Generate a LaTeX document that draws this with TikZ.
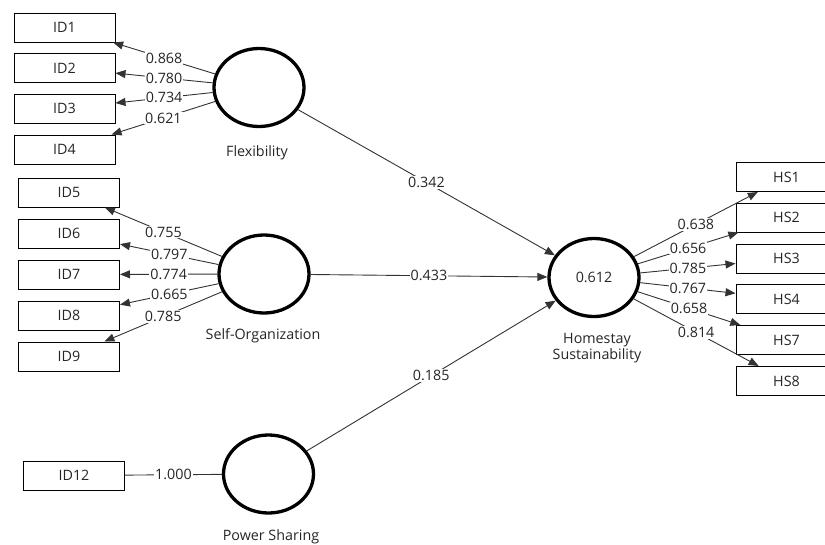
\documentclass[tikz,border=0pt]{standalone}
\usepackage{fontspec}
\setmainfont{Open Sans}
\usetikzlibrary{shapes.geometric,arrows.meta}
\begin{document}
\begin{tikzpicture}[x=1pt,y=-1pt,
  font=\fontsize{14.3}{16}\selectfont,
  txt/.style={text=black!85},
  ind/.style={draw=black, line width=1pt, minimum width=101pt, minimum height=29pt, inner sep=0pt, txt},
  lat/.style={ellipse, draw=black, line width=3.3pt, minimum width=90pt, minimum height=78pt, inner sep=0pt, txt},
  conn/.style={draw=black!80, line width=0.9pt},
  arr/.style={conn, -{Triangle[length=10pt,width=8pt]}},
  lbl/.style={fill=white, inner sep=1pt, txt},
  captxt/.style={txt, align=center}
]
\path[use as bounding box] (0,0) rectangle (825,544);
\clip (0,0) rectangle (825,544);
\fill[white] (0,0) rectangle (825,544);

% indicator boxes left
\node[ind] (id1) at (64.5,27.5) {ID1};
\node[ind] (id2) at (64.5,68) {ID2};
\node[ind] (id3) at (64.5,108.5) {ID3};
\node[ind] (id4) at (64.5,149.5) {ID4};
\node[ind] (id5) at (69,192.5) {ID5};
\node[ind] (id6) at (69,233.5) {ID6};
\node[ind] (id7) at (69,274.5) {ID7};
\node[ind] (id8) at (69,315.5) {ID8};
\node[ind] (id9) at (69,356.5) {ID9};
\node[ind] (id12) at (74,475.5) {ID12};

% right boxes
\node[ind] (hs1) at (786.5,177) {HS1};
\node[ind] (hs2) at (786.5,217.5) {HS2};
\node[ind] (hs3) at (786.5,258.5) {HS3};
\node[ind] (hs4) at (786.5,299) {HS4};
\node[ind] (hs7) at (786.5,340) {HS7};
\node[ind] (hs8) at (786.5,381) {HS8};

% latent variables
\node[lat] (flex) at (259,87.5) {};
\node[lat] (self) at (264,274) {};
\node[lat] (power) at (268.5,474) {};
\node[lat] (home) at (594,277.5) {0.612};

\node[captxt] (flexlbl) at (257,153) {Flexibility};
\node[captxt] (selflbl) at (263,336) {Self-Organization};
\node[captxt] (powerlbl) at (271,537) {Power Sharing};
\node[captxt, font=\fontsize{14.3}{16.5}\selectfont] (homelbl) at (597,348) {Homestay\\Sustainability};

% outer loadings
\draw[arr] (flex) -- node[lbl]{0.868} (id1);
\draw[arr] (flex) -- node[lbl]{0.780} (id2);
\draw[arr] (flex) -- node[lbl]{0.734} (id3);
\draw[arr] (flex) -- node[lbl]{0.621} (id4);

\draw[arr] (self) -- node[lbl]{0.755} (id5);
\draw[arr] (self) -- node[lbl]{0.797} (id6);
\draw[arr] (self) -- node[lbl]{0.774} (id7);
\draw[arr] (self) -- node[lbl]{0.665} (id8);
\draw[arr] (self) -- node[lbl]{0.785} (id9);

\draw[conn] (power) -- node[lbl]{1.000} (id12);

\draw[arr] (home) -- node[lbl]{0.638} (hs1);
\draw[arr] (home) -- node[lbl]{0.656} (hs2);
\draw[arr] (home) -- node[lbl]{0.785} (hs3);
\draw[arr] (home) -- node[lbl]{0.767} (hs4);
\draw[arr] (home) -- node[lbl]{0.658} (hs7);
\draw[arr] (home) -- node[lbl]{0.814} (hs8);

% path coefficients
\draw[arr] (flex) -- node[lbl]{0.342} (home);
\draw[arr] (self) -- node[lbl]{0.433} (home);
\draw[arr] (power) -- node[lbl]{0.185} (home);
\end{tikzpicture}
\end{document}
